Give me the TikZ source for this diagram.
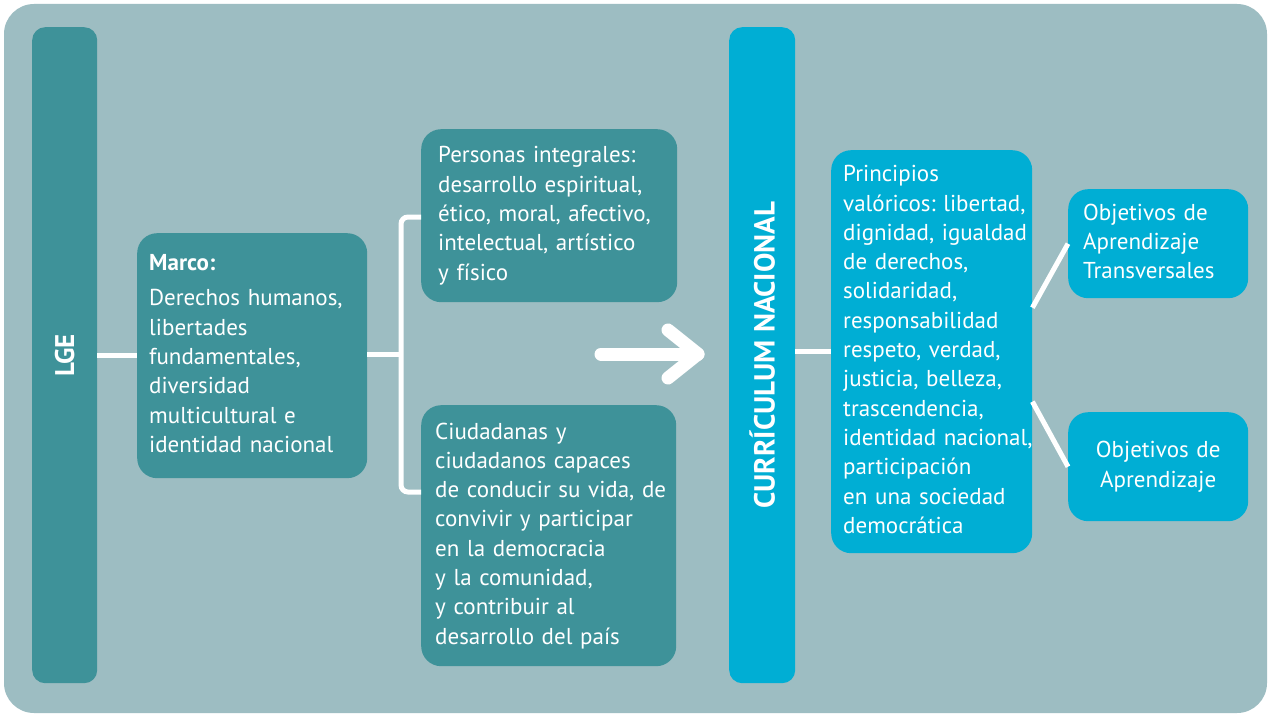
\documentclass[tikz,border=0pt]{standalone}
\usepackage{fontspec}
\setmainfont{PT Sans}
\usetikzlibrary{calc}
\frenchspacing
\definecolor{bgc}{HTML}{9DBDC2}
\definecolor{teal}{HTML}{3E9299}
\definecolor{cyanb}{HTML}{00AED4}
\newcommand{\leftlines}[1]{\begin{tabular}{@{}l@{}}#1\end{tabular}}
\newcommand{\midlines}[1]{\begin{tabular}{@{}c@{}}#1\end{tabular}}
\tikzset{
  box/.style={rounded corners=20pt, text=white, inner ysep=0pt, align=left,
    font=\fontsize{23}{29.3}\selectfont\frenchspacing, anchor=north west},
  tealbox/.style={box, fill=teal},
  cyanbox/.style={box, fill=cyanb},
  bar/.style={rounded corners=13pt, minimum width=65pt, minimum height=656pt,
    anchor=north west, inner sep=0pt, text=white},
  conn/.style={draw=white, line width=5pt},
}
\begin{document}
\begin{tikzpicture}[x=1pt,y=-1pt]
\useasboundingbox (0,0) rectangle (1268,714);
\fill[white] (0,0) rectangle (1268,714);
\fill[bgc, rounded corners=30pt] (4,4) rectangle (1267,713);

% bars
\node[bar, fill=teal] (lge) at (32,27)
  {\rotatebox{90}{\fontsize{27}{30}\selectfont\bfseries LGE}};
\node[bar, fill=cyanb, minimum width=66pt] (curr) at (729,27)
  {\rotatebox{90}{\fontsize{29}{32}\selectfont\bfseries CURRÍCULUM NACIONAL}};

% teal boxes
\node[tealbox, minimum width=230pt, minimum height=245pt, inner xsep=12pt, text width=206pt] (marco) at (137,233)
  {\leftlines{\textbf{Marco:}\\[6pt]
   Derechos humanos,\\ libertades\\ fundamentales,\\ diversidad\\ multicultural e\\ identidad nacional}};
\node[tealbox, minimum width=256pt, minimum height=173pt, inner xsep=17pt, text width=222pt] (pers) at (421,129)
  {\leftlines{Personas integrales:\\ desarrollo espiritual,\\ ético, moral, afectivo,\\ intelectual, artístico\\ y físico}};
\node[tealbox, minimum width=255pt, minimum height=261pt, inner xsep=14pt, text width=227pt] (ciud) at (421,405)
  {\leftlines{Ciudadanas y\\ ciudadanos capaces\\ de conducir su vida, de\\ convivir y participar\\ en la democracia\\ y la comunidad,\\ y contribuir al\\ desarrollo del país}};

% cyan boxes
\node[cyanbox, minimum width=201pt, minimum height=403pt, inner xsep=12pt, text width=177pt] (prin) at (831,150)
  {\leftlines{Principios\\ valóricos: libertad,\\ dignidad, igualdad\\ de derechos,\\ solidaridad,\\ responsabilidad\\ respeto, verdad,\\ justicia, belleza,\\ trascendencia,\\ identidad nacional,\\ participación\\ en una sociedad\\ democrática}};
\node[cyanbox, minimum width=180pt, minimum height=109pt, inner xsep=15pt, text width=150pt] (objt) at (1068,189)
  {\leftlines{Objetivos de\\ Aprendizaje\\ Transversales}};
\node[cyanbox, align=center, minimum width=180pt, minimum height=109pt, inner xsep=15pt, text width=150pt] (obja) at (1068,412)
  {\midlines{Objetivos de\\ Aprendizaje}};

% connectors
\coordinate (br) at (401,354);
\coordinate (cj) at (421,492);
\coordinate (pj) at (421,217);
\draw[conn] (lge.east) -- (lge.east -| marco.west);
\draw[conn] (marco.east |- br) -- (br);
\draw[conn, rounded corners=7pt] (pj) -| (br) |- (cj);
\draw[conn] (prin.west -| curr.east) -- (prin.west);
\draw[conn] ($(prin.east)+(0,-44)$) -- (objt.west);
\draw[conn] ($(prin.east)+(0,50)$) -- (obja.west);

% big arrow
\coordinate (as) at (601,354);
\coordinate (ae) at (698,354);
\draw[white, line width=13pt, line cap=round] (as) -- (ae);
\draw[white, line width=13pt, line cap=round, line join=round]
  ($(ae)+(-30,-24)$) -- (ae) -- ($(ae)+(-30,24)$);
\end{tikzpicture}
\end{document}
